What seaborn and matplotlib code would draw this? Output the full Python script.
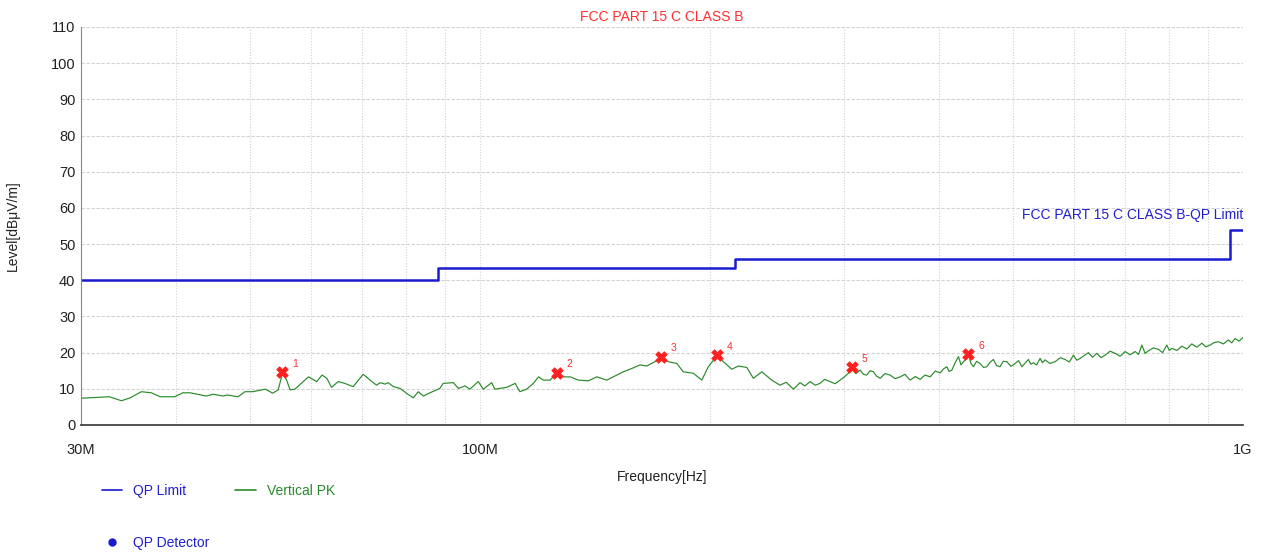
import numpy as np
import pandas as pd
import matplotlib
matplotlib.use("Agg")
import matplotlib.pyplot as plt
from matplotlib.lines import Line2D
from matplotlib.ticker import FixedLocator, NullFormatter
import seaborn as sns

# Limit line (QP), step levels
limit_freq = [30, 88, 216, 960, 1000]
limit_level = [40, 43.5, 46, 54, 54]

# Vertical PK trace (MHz, dBuV/m)
pk_freq = [30.0, 32.7, 33.9, 34.8, 36.0, 37.1, 38.1, 39.8, 40.8, 41.7, 43.8, 44.7,
           46.1, 46.6, 48.2, 49.2, 50.4, 52.3, 53.5, 54.4, 55.1, 55.8, 56.4, 57.2,
           59.6, 61.1, 62.1, 63.0, 63.9, 65.2, 66.5, 68.2, 70.3, 71.8, 73.2, 74.0,
           75.1, 75.8, 77.0, 78.6, 80.2, 81.8, 83.0, 84.3, 86.0, 88.6, 89.5, 92.3,
           93.7, 95.6, 97.0, 99.5, 101.0, 103.6, 104.6, 106.2, 108.4, 111.2, 112.8,
           115.1, 117.5, 119.3, 121.1, 123.6, 126.1, 128.6, 131.3, 134.6, 138.7,
           142.3, 146.6, 149.5, 154.1, 158.9, 162.1, 165.4, 169.6, 172.7, 176.6,
           181.1, 184.7, 190.4, 195.3, 199.2, 204.7, 208.4, 213.8, 218.1, 223.7,
           228.2, 234.1, 241.2, 247.3, 252.0, 257.5, 262.7, 266.5, 270.8, 275.0,
           279.0, 283.0, 287.6, 292.0, 296.4, 300.0, 303.9, 307.0, 311.0, 314.9,
           318.0, 321.2, 324.5, 327.8, 331.0, 334.5, 339.5, 344.7, 350.0, 355.3,
           360.5, 366.2, 372.0, 377.4, 383.0, 389.0, 395.0, 400.9, 405.0, 409.1,
           412.0, 415.4, 419.5, 423.7, 427.0, 430.1, 433.5, 436.6, 440.0, 443.3,
           447.5, 452.3, 457.0, 461.5, 466.0, 470.8, 475.5, 480.4, 485.0, 490.2,
           496.5, 502.7, 508.0, 513.0, 518.0, 523.3, 527.0, 531.3, 536.5, 542.1,
           546.0, 550.3, 558.5, 567.2, 576.0, 584.5, 592.0, 599.4, 605.5, 611.6,
           619.5, 627.2, 635.0, 643.2, 651.5, 659.6, 669.5, 679.8, 690.0, 700.6,
           711.0, 722.1, 729.5, 736.9, 744.0, 751.6, 763.0, 774.7, 784.5, 794.5,
           800.5, 806.7, 819.0, 831.4, 844.0, 856.8, 870.0, 883.1, 894.0, 905.5,
           917.0, 928.4, 942.5, 956.8, 966.5, 976.2, 988.0, 1000.0]
pk_level = [7.4, 7.8, 6.7, 7.5, 9.2, 8.9, 7.8, 7.8, 8.9, 8.9, 8.0, 8.5,
            8.0, 8.3, 7.8, 9.2, 9.2, 9.9, 8.8, 9.7, 14.3, 12.4, 9.7, 9.9,
            13.3, 12.0, 13.8, 12.9, 10.4, 12.0, 11.5, 10.6, 14.0, 12.4, 11.0, 11.7,
            11.3, 11.7, 10.6, 10.1, 8.7, 7.5, 9.2, 8.0, 8.9, 10.1, 11.5, 11.7,
            10.1, 10.8, 9.9, 12.0, 9.9, 11.7, 9.9, 10.1, 10.4, 11.5, 9.2,
            9.9, 11.5, 13.3, 12.4, 12.4, 14.4, 13.3, 13.3, 12.4, 12.2,
            13.3, 12.4, 13.3, 14.7, 15.8, 16.6, 16.3, 17.5, 18.6, 17.5,
            17.0, 14.7, 14.3, 12.4, 16.1, 19.3, 17.5, 15.4, 16.3, 15.9,
            12.9, 14.7, 12.4, 11.0, 11.8, 9.9, 11.7, 10.8, 12.0, 11.0,
            11.5, 12.6, 12.0, 11.4, 12.4, 13.2, 14.3, 15.9, 14.2, 15.2,
            14.0, 13.8, 15.0, 14.7, 13.5, 12.9, 14.2, 13.8, 12.8, 13.3,
            14.0, 12.4, 13.4, 12.6, 13.8, 13.3, 14.9, 14.4, 15.5, 16.1,
            14.8, 15.2, 17.2, 18.9, 16.6, 17.5, 18.2, 19.6, 17.0, 16.1,
            17.6, 17.0, 15.9, 16.1, 17.3, 18.1, 16.4, 16.1, 17.6, 17.5,
            16.2, 17.0, 17.8, 16.1, 17.1, 18.1, 16.8, 17.2, 16.6, 18.4,
            17.2, 18.0, 17.0, 17.5, 18.6, 18.1, 17.4, 19.3, 17.9, 18.4,
            19.2, 20.0, 18.7, 19.8, 18.6, 19.3, 20.4, 19.8, 19.0, 20.3,
            19.4, 20.3, 19.5, 22.1, 19.8, 20.5, 21.3, 20.9, 20.0, 22.1,
            20.6, 21.2, 20.6, 21.8, 21.0, 22.4, 21.5, 22.6, 21.6, 22.1,
            22.8, 23.0, 22.4, 23.5, 22.7, 23.9, 23.2, 24.2]

# QP detector / peak markers
mark_freq = [55.1, 126.1, 172.7, 204.7, 307.0, 436.6]
mark_level = [14.6, 14.4, 18.8, 19.3, 16.0, 19.6]
mark_label = ["1", "2", "3", "4", "5", "6"]

x_ticks = [30, 100, 1000]
x_tick_labels = ["30M", "100M", "1G"]
y_ticks = list(range(0, 111, 10))

sns.set_style("white")
plt.rcParams["font.family"] = ["Liberation Sans Narrow", "Liberation Sans", "DejaVu Sans"]

limit_df = pd.DataFrame({"freq": limit_freq, "level": limit_level})
pk_df = pd.DataFrame({"freq": pk_freq, "level": pk_level})
mark_df = pd.DataFrame({"freq": mark_freq, "level": mark_level})

fig = plt.figure(figsize=(12.63, 5.52), dpi=100)
ax = fig.add_axes([0.0641, 0.2301, 0.9201, 0.7210])

sns.lineplot(data=pk_df, x="freq", y="level", ax=ax, color="#2a8a2a", linewidth=0.85,
             estimator=None, sort=False)
sns.lineplot(data=limit_df, x="freq", y="level", ax=ax, color="#1a1ad0", linewidth=1.8,
             estimator=None, drawstyle="steps-post")
sns.scatterplot(data=mark_df, x="freq", y="level", ax=ax, marker="X", s=70,
                color="#ff2020", edgecolor="#ff2020", linewidth=0.5, zorder=5)
for f, l, t in zip(mark_freq, mark_level, mark_label):
    ax.annotate(t, (f, l), xytext=(7, 4), textcoords="offset points",
                color="#ff3030", fontsize=7.5)

ax.set_xscale("log")
ax.set_xlim(30, 1000)
ax.set_ylim(0, 110)
ax.set_xticks(x_ticks)
ax.set_xticklabels(x_tick_labels)
minor = [v * d for d in (10, 100) for v in range(1, 10) if 30 <= v * d <= 1000 and v * d not in x_ticks]
ax.xaxis.set_minor_locator(FixedLocator(minor))
ax.xaxis.set_minor_formatter(NullFormatter())
ax.set_yticks(y_ticks)

ax.grid(True, axis="x", which="both", color="#d2d2d2", linestyle=(0, (1, 1.5)), linewidth=0.8)
ax.grid(True, axis="y", which="major", color="#d2d2d2", linestyle=(0, (3, 1.5)), linewidth=0.8)

for side in ("top", "right"):
    ax.spines[side].set_visible(False)
ax.spines["left"].set_color("#888888")
ax.spines["bottom"].set_color("#333333")
ax.spines["bottom"].set_linewidth(1.2)

ax.tick_params(axis="x", which="both", direction="in", length=5, color="#333333",
               labelsize=10.5, pad=13, labelcolor="#222222")
ax.tick_params(axis="y", direction="out", length=2, color="#888888",
               labelsize=10.5, pad=2, labelcolor="#222222")
ax.tick_params(axis="x", which="minor", length=5)

ax.set_xlabel("Frequency[Hz]", fontsize=10, color="#222222", labelpad=9)
ax.set_ylabel("Level[dBμV/m]", fontsize=10, color="#222222", labelpad=22)

ax.set_title("FCC PART 15 C CLASS B", color="#ff3030", fontsize=10, pad=4)
ax.text(1000, 56.0, "FCC PART 15 C CLASS B-QP Limit", color="#2020d0", fontsize=10,
        ha="right", va="bottom")

handles = [
    Line2D([], [], color="#1a1ad0", linewidth=1.2, label="QP Limit"),
    Line2D([], [], color="#1a1ad0", marker="o", linestyle="none", markersize=5, label="QP Detector"),
    Line2D([], [], color="#2a8a2a", linewidth=1.2, label="Vertical PK"),
]
leg = fig.legend(handles=handles, loc="upper left", bbox_to_anchor=(0.0705, 0.146),
                 ncol=2, frameon=False, fontsize=10, labelspacing=2.75,
                 columnspacing=1.8, handlelength=1.5, handletextpad=0.8)
for txt, col in zip(leg.get_texts(), ["#2020d0", "#2020d0", "#2a8a2a"]):
    txt.set_color(col)

fig.savefig("out.png", dpi=100)
